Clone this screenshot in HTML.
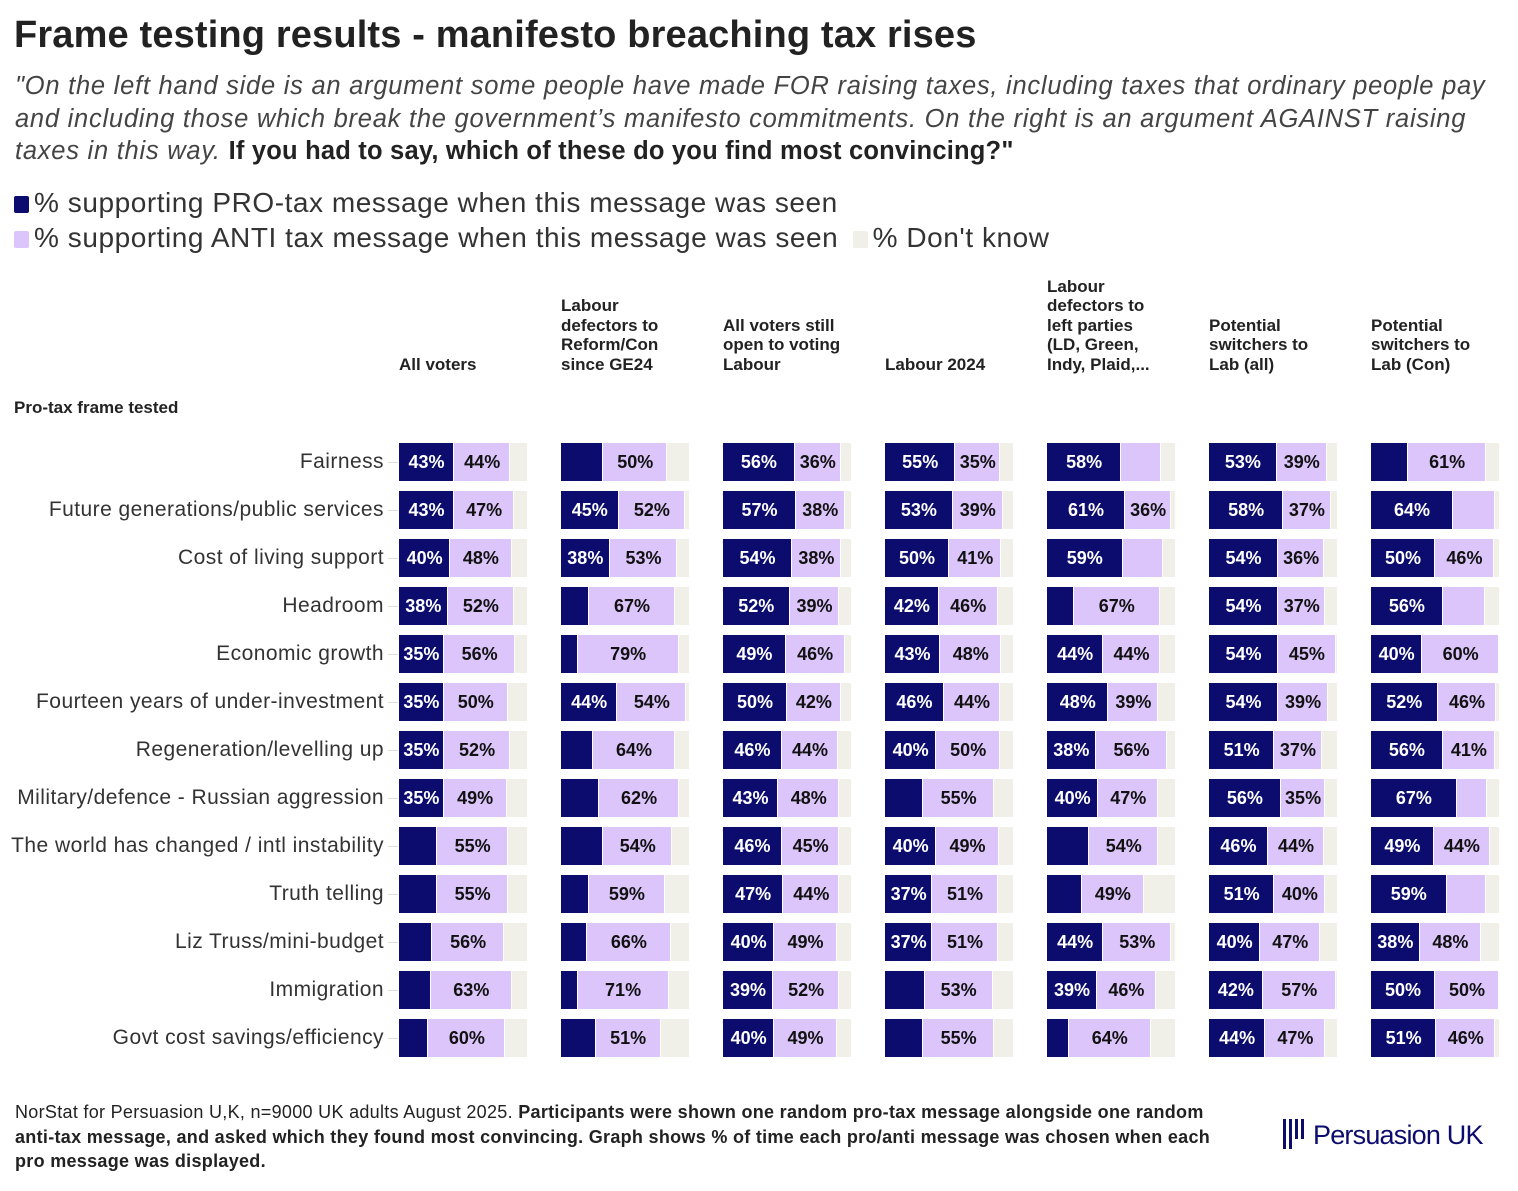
<!DOCTYPE html>
<html><head><meta charset="utf-8"><style>
*{margin:0;padding:0;box-sizing:border-box}
body{width:1518px;height:1191px;background:#fff;font-family:"Liberation Sans",sans-serif;color:#222;position:relative;overflow:hidden}
.a{position:absolute;white-space:nowrap}
h1{position:absolute;left:14px;top:14px;font-size:38px;font-weight:700;color:#222;letter-spacing:0.15px}
.sub{position:absolute;left:15px;top:70px;width:1510px;font-size:25.5px;font-style:italic;line-height:32.5px;color:#444;letter-spacing:0.75px;white-space:nowrap}
.sub b{font-style:normal;color:#222;letter-spacing:0.2px}
.leg{font-size:28px;color:#333;letter-spacing:0.55px}
.sq{display:inline-block;width:15px;height:17px;margin-right:5px;vertical-align:-1px;border-radius:2px}
.hd{position:absolute;font-size:17px;font-weight:700;line-height:19.5px;color:#222;width:150px}
.rl{position:absolute;right:1134px;font-size:21px;color:#333;text-align:right;white-space:nowrap;letter-spacing:0.45px}
.seg{position:absolute;height:38px}
.lb{position:absolute;font-size:18px;font-weight:700;text-align:center;line-height:38px;height:38px}
.foot{position:absolute;left:15px;top:1100px;font-size:18px;line-height:24.5px;color:#222;letter-spacing:0.3px;white-space:nowrap}
</style></head><body>
<h1>Frame testing results - manifesto breaching tax rises</h1>
<div class="sub">"On the left hand side is an argument some people have made FOR raising taxes, including taxes that ordinary people pay<br>and including those which break the government’s manifesto commitments. On the right is an argument AGAINST raising<br>taxes in this way. <b>If you had to say, which of these do you find most convincing?"</b></div>
<div class="a leg" style="left:14px;top:187px"><span class="sq" style="background:#0b0c6e"></span>% supporting PRO-tax message when this message was seen</div>
<div class="a leg" style="left:14px;top:222px"><span class="sq" style="background:#dcc5fb"></span>% supporting ANTI tax message when this message was seen <span class="sq" style="background:#f0efe8;margin-left:6px"></span>% Don't know</div>
<div class="a" style="left:14px;top:398px;font-size:17px;font-weight:700">Pro-tax frame tested</div>
<div id="c"></div>
<div class="foot">NorStat for Persuasion U,K, n=9000 UK adults August 2025. <b>Participants were shown one random pro-tax message alongside one random<br>anti-tax message, and asked which they found most convincing. Graph shows % of time each pro/anti message was chosen when each<br>pro message was displayed.</b></div>
<div class="a" style="left:1283px;top:1118px;">
<svg width="24" height="32" style="position:absolute;left:0;top:0"><rect x="0" y="1" width="3" height="30" fill="#0b0c6e"/><rect x="6" y="1" width="3" height="30" fill="#0b0c6e"/><rect x="12" y="1" width="3" height="20" fill="#0b0c6e"/><rect x="18" y="1" width="3" height="20" fill="#0b0c6e"/></svg>
<span style="position:absolute;left:30px;top:2px;font-size:27px;color:#0b0c6e;letter-spacing:-0.8px">Persuasion UK</span></div>
<script>
const heads=[["All voters"],["Labour","defectors to","Reform/Con","since GE24"],["All voters still","open to voting","Labour"],["Labour 2024"],["Labour","defectors to","left parties","(LD, Green,","Indy, Plaid,..."],["Potential","switchers to","Lab (all)"],["Potential","switchers to","Lab (Con)"]];
const rows=["Fairness","Future generations/public services","Cost of living support","Headroom","Economic growth","Fourteen years of under-investment","Regeneration/levelling up","Military/defence - Russian aggression","The world has changed / intl instability","Truth telling","Liz Truss/mini-budget","Immigration","Govt cost savings/efficiency"];
const d=[
[[43,44],[43,47],[40,48],[38,52],[35,56],[35,50],[35,52],[35,49],[30,55,0],[30,55,0],[26,56,0],[25,63,0],[23,60,0]],
[[33,50,0],[45,52],[38,53],[22,67,0],[13,79,0],[44,54],[25,64,0],[30,62,0],[33,54,0],[22,59,0],[20,66,0],[13,71,0],[27,51,0]],
[[56,36],[57,38],[54,38],[52,39],[49,46],[50,42],[46,44],[43,48],[46,45],[47,44],[40,49],[39,52],[40,49]],
[[55,35],[53,39],[50,41],[42,46],[43,48],[46,44],[40,50],[30,55,0],[40,49],[37,51],[37,51],[31,53,0],[30,55,0]],
[[58,31,1,0],[61,36],[59,32,1,0],[21,67,0],[44,44],[48,39],[38,56],[40,47],[33,54,0],[27,49,0],[44,53],[39,46],[17,64,0]],
[[53,39],[58,37],[54,36],[54,37],[54,45],[54,39],[51,37],[56,35],[46,44],[51,40],[40,47],[42,57],[44,47]],
[[29,61,0],[64,33,1,0],[50,46],[56,33,1,0],[40,60],[52,46],[56,41],[67,24,1,0],[49,44],[59,31,1,0],[38,48],[50,50],[51,46]]];
const X=[399,561,723,885,1047,1209,1371],S=1.28;
let h="";
heads.forEach((hd,i)=>{const n=hd.length;h+=`<div class="hd" style="left:${X[i]}px;top:${374-n*19.5}px">${hd.join("<br>")}</div>`});
rows.forEach((r,j)=>{const y=443+48*j;h+=`<div class="rl" style="top:${y+7}px">${r}</div><div class="a" style="left:388px;top:${y+19}px;width:10px;height:1px;background:#ddd"></div>`;
d.forEach((col,i)=>{const v=col[j],p=v[0],a=v[1],sp=v[2]!==0,sa=v[3]!==0;const x=X[i],pw=p*S,aw=a*S,dw=128-pw-aw;
h+=`<div class="seg" style="left:${x}px;top:${y}px;width:${pw-1}px;background:#0b0c6e"></div>`;
h+=`<div class="seg" style="left:${x+pw}px;top:${y}px;width:${aw-1}px;background:#dcc5fb"></div>`;
if(dw>1)h+=`<div class="seg" style="left:${x+pw+aw}px;top:${y}px;width:${dw}px;background:#f0efe8"></div>`;
if(sp)h+=`<div class="lb" style="left:${x}px;top:${y}px;width:${pw}px;color:#fff">${p}%</div>`;
if(sa)h+=`<div class="lb" style="left:${x+pw}px;top:${y}px;width:${aw}px;color:#111">${a}%</div>`;
});});
document.getElementById("c").innerHTML=h;
</script>
</body></html>
